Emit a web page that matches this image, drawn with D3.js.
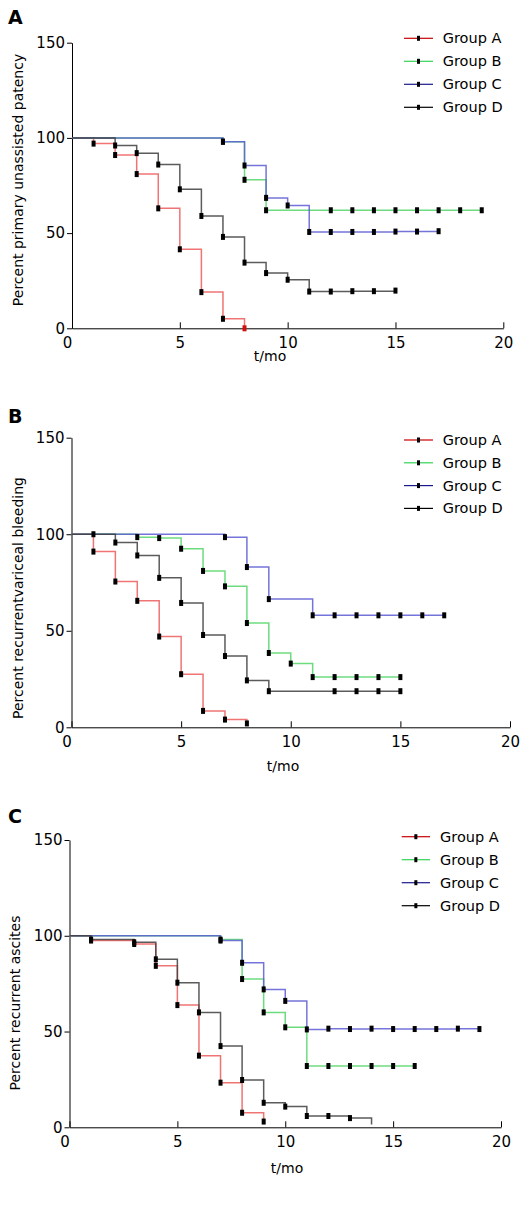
<!DOCTYPE html>
<html><head><meta charset="utf-8">
<script src="https://cdn.jsdelivr.net/npm/d3@7"></script>
<style>
html,body{margin:0;padding:0;background:#fff;}
svg{display:block;font-family:"DejaVu Sans",Verdana,sans-serif;}
</style></head>
<body>
<svg id="chart" width="529" height="1205"></svg>
<script>
// ---------------- DATA ----------------
const groups = ["Group A", "Group B", "Group C", "Group D"];
const xTicks = [0, 5, 10, 15, 20];
const yTicks = [0, 50, 100, 150];
const panelLetters = ["A", "B", "C"];
const yTitles = ["Percent primary unassisted patency", "Percent recurrentvariceal bleeding", "Percent recurrent ascites"];
const xTitle = "t/mo";

// Panel A: primary unassisted patency
const pA_grpA_t = [0, 1, 2, 3, 4, 5, 6, 7, 8];
const pA_grpA_v = [100, 97, 91, 81, 63, 41.5, 19, 5, 0];
const pA_grpB_t = [0, 7, 8, 9, 12, 13, 14, 15, 16, 17, 18, 19];
const pA_grpB_v = [100, 98, 78, 62, 62, 62, 62, 62, 62, 62, 62, 62];
const pA_grpC_t = [0, 7, 8, 9, 10, 11, 12, 13, 14, 15, 16, 17];
const pA_grpC_v = [100, 98, 85.5, 68.5, 64.5, 50.6, 50.6, 50.6, 50.6, 50.8, 50.8, 51];
const pA_grpD_t = [0, 2, 3, 4, 5, 6, 7, 8, 9, 10, 11, 12, 13, 14, 15];
const pA_grpD_v = [100, 96, 92, 86, 73, 59, 48, 34.5, 29, 25.5, 19.3, 19.3, 19.5, 19.5, 19.8];

// Panel B: recurrent variceal bleeding
const pB_grpA_t = [0, 1, 2, 3, 4, 5, 6, 7, 8];
const pB_grpA_v = [100, 91, 75.5, 65.5, 47, 27.5, 8.5, 4, 2];
const pB_grpB_t = [0, 3, 4, 5, 6, 7, 8, 9, 10, 11, 12, 13, 14, 15];
const pB_grpB_v = [100, 98.5, 98, 92.5, 81, 73, 54, 38.5, 33, 26, 26, 26, 26, 26];
const pB_grpC_t = [0, 7, 8, 9, 11, 12, 13, 14, 15, 16, 17];
const pB_grpC_v = [100, 98.5, 83, 66.4, 58, 58, 58, 58, 58, 58, 58];
const pB_grpD_t = [0, 1, 2, 3, 4, 5, 6, 7, 8, 9, 12, 13, 14, 15];
const pB_grpD_v = [100, 100, 95.7, 89, 77.4, 64.4, 47.8, 36.9, 24.3, 18.7, 18.7, 18.7, 18.7, 18.7];

// Panel C: recurrent ascites
const pC_grpA_t = [0, 1, 3, 4, 5, 6, 7, 8, 9];
const pC_grpA_v = [100, 97.5, 95.7, 84.3, 63.8, 37.4, 23.3, 7.6, 3];
const pC_grpB_t = [0, 7, 8, 9, 10, 11, 12, 13, 14, 15, 16];
const pC_grpB_v = [100, 98, 77.4, 60, 52.2, 32, 32, 32, 32, 32, 32];
const pC_grpC_t = [0, 7, 8, 9, 10, 11, 12, 13, 14, 15, 16, 17, 18, 19];
const pC_grpC_v = [100, 97.5, 85.9, 72, 66, 51.1, 51.5, 51.3, 51.5, 51.3, 51.3, 51.3, 51.5, 51.3];
const pC_grpD_t = [0, 1, 3, 4, 5, 6, 7, 8, 9, 10, 11, 12, 13, 14];
const pC_grpD_v = [100, 98, 96.6, 87.7, 75.5, 60, 42.4, 24.7, 12.8, 10.8, 5.9, 5.9, 4.8, 1.5];
const pC_grpD_unmarked = [14];

// ---------------- STYLE / LAYOUT ----------------
const lineColors = ["rgb(236,92,92)", "rgb(84,214,104)", "rgb(92,92,212)", "rgb(62,62,62)"];
const legendColors = ["#c80000", "#33d455", "#1a1a8c", "#000000"];

const panels = [
  {x0: 72, x1: 503.3, y0: 328.3, y1: 42.7, letterY: 24, titleX: 18.5, titleY: 180, xTitleX: 270, xTitleY: 361,
   legX1: 404, legX2: 433, legText: 442.7, legY: 38.3, legStep: 23,
   series: [[pA_grpA_t, pA_grpA_v, []], [pA_grpB_t, pA_grpB_v, []], [pA_grpC_t, pA_grpC_v, []], [pA_grpD_t, pA_grpD_v, []]]},
  {x0: 71.5, x1: 510, y0: 727.3, y1: 437.7, letterY: 423, titleX: 18.5, titleY: 598, xTitleX: 283, xTitleY: 771,
   legX1: 404, legX2: 433, legText: 442.7, legY: 440, legStep: 22.8,
   series: [[pB_grpA_t, pB_grpA_v, []], [pB_grpB_t, pB_grpB_v, []], [pB_grpC_t, pB_grpC_v, []], [pB_grpD_t, pB_grpD_v, []]]},
  {x0: 69.5, x1: 501, y0: 1127.3, y1: 840, letterY: 823, titleX: 15, titleY: 1003, xTitleX: 287, xTitleY: 1173,
   legX1: 401.7, legX2: 430, legText: 440, legY: 836.7, legStep: 23,
   series: [[pC_grpA_t, pC_grpA_v, []], [pC_grpB_t, pC_grpB_v, []], [pC_grpC_t, pC_grpC_v, []], [pC_grpD_t, pC_grpD_v, pC_grpD_unmarked]]}
];

const svg = d3.select("#chart");

panels.forEach((p, pi) => {
  const x = d3.scaleLinear().domain([0, 20]).range([p.x0, p.x1]);
  const y = d3.scaleLinear().domain([0, 150]).range([p.y0, p.y1]);
  const g = svg.append("g");

  // panel letter
  g.append("text").attr("x", 8).attr("y", p.letterY)
    .attr("font-size", 19).attr("font-weight", "bold").attr("fill", "#000")
    .text(panelLetters[pi]);

  // y axis
  const yAxis = d3.axisLeft(y).tickValues(yTicks).tickSizeInner(5).tickSizeOuter(0).tickPadding(2);
  const ya = g.append("g").attr("transform", `translate(${p.x0},0)`).call(yAxis);
  ya.selectAll("text").attr("font-size", 15).attr("font-family", "DejaVu Sans").attr("fill", "#000");
  ya.selectAll("line,path").attr("stroke", "#000");

  // x axis (ticks point inward)
  const xAxis = d3.axisBottom(x).tickValues(xTicks).tickSizeInner(-6).tickSizeOuter(0).tickPadding(9);
  const xa = g.append("g").attr("transform", `translate(0,${p.y0})`).call(xAxis);
  xa.selectAll("text").attr("font-size", 15).attr("font-family", "DejaVu Sans").attr("fill", "#000");
  xa.selectAll("line,path").attr("stroke", "#000");
  xa.selectAll(".tick").filter(d => d === 0).select("text").attr("dx", -5);

  // titles
  g.append("text")
    .attr("transform", `translate(${p.titleX},${p.titleY}) rotate(-90)`)
    .attr("text-anchor", "middle").attr("dy", "0.35em").attr("font-size", 14).attr("fill", "#000")
    .text(yTitles[pi]);
  g.append("text").attr("x", p.xTitleX).attr("y", p.xTitleY).attr("text-anchor", "middle")
    .attr("font-size", 14).attr("fill", "#000").text(xTitle);

  // step lines
  const line = d3.line().x(d => x(d.t)).y(d => y(d.v)).curve(d3.curveStepAfter);
  const seriesData = p.series.map(([ts, vs, un]) => ts.map((t, i) => ({t, v: vs[i], marked: i > 0 && !un.includes(t)})));

  seriesData.forEach((pts, gi) => {
    g.append("path").datum(pts).attr("d", line)
      .attr("fill", "none").attr("stroke", lineColors[gi]).attr("stroke-width", 1.5)
      .attr("stroke-opacity", 0.85);
  });
  seriesData.forEach((pts, gi) => {
    g.selectAll(null).data(pts.filter(d => d.marked)).enter().append("rect")
      .attr("x", d => x(d.t) - 2).attr("y", d => y(d.v) - 3)
      .attr("width", 4).attr("height", 6)
      .attr("fill", d => (gi === 0 && d.v === 0) ? "#d01010" : "#000");
  });

  // legend
  groups.forEach((name, gi) => {
    const ly = p.legY + gi * p.legStep;
    const lg = g.append("g");
    lg.append("line").attr("x1", p.legX1).attr("x2", p.legX2).attr("y1", ly).attr("y2", ly)
      .attr("stroke", legendColors[gi]).attr("stroke-width", 1.2);
    lg.append("rect").attr("x", (p.legX1 + p.legX2) / 2 - 1.5).attr("y", ly - 2.5)
      .attr("width", 3).attr("height", 5).attr("fill", "#000");
    lg.append("text").attr("x", p.legText).attr("y", ly).attr("dy", "0.35em")
      .attr("font-size", 14.5).attr("fill", "#000").text(name);
  });
});
</script>
</body></html>
